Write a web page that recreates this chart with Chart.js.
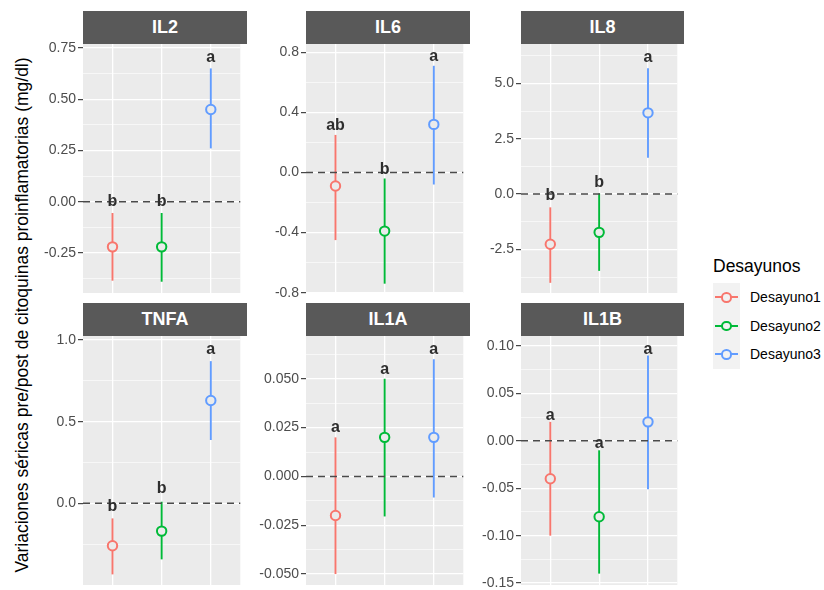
<!DOCTYPE html>
<html>
<head>
<meta charset="utf-8">
<script src="https://cdn.jsdelivr.net/npm/chart.js@4.4.0/dist/chart.umd.min.js"></script>
<style>
  body { margin:0; background:#fff; width:824px; height:590px; overflow:hidden; position:relative;
         font-family:"Liberation Sans", Arial, sans-serif; }
  canvas { position:absolute; }
  .strip { position:absolute; height:33px; background:#595959; color:#fff; font-weight:bold; font-size:18px;
           display:flex; align-items:center; justify-content:center; }
  #ytitle { position:absolute; left:22px; top:315px; transform:translate(-50%,-50%) rotate(-90deg);
            white-space:nowrap; font-size:17.5px; color:#000; }
  #legend { position:absolute; left:713px; top:256px; }
  #legend .title { font-size:17.5px; color:#000; margin-bottom:6px; }
  #legend .row { position:relative; height:28.5px; }
  #legend .key { position:absolute; left:0; top:0; width:27px; height:28.5px; background:#F2F2F2; }
  #legend .key .ln { position:absolute; left:2px; right:2px; top:13.3px; height:1.9px; }
  #legend .key .pt { position:absolute; left:8.3px; top:9.1px; width:6.6px; height:6.6px; border-radius:50%;
                     border:2px solid; background:#F2F2F2; }
  #legend .lab { position:absolute; left:37px; top:6px; font-size:14px; color:#000; }
</style>
</head>
<body>
<div id="ytitle">Variaciones séricas pre/post de citoquinas proinflamatorias (mg/dl)</div>
<div id="legend"></div>
<script>
// ---- data ----
const groups = ["Desayuno1", "Desayuno2", "Desayuno3"];
const colors = ["#F8766D", "#00BA38", "#619CFF"];

const il2Mean = [-0.22, -0.22, 0.45];
const il2Low  = [-0.385, -0.39, 0.26];
const il2High = [-0.055, -0.055, 0.65];
const il2Letters = ["b", "b", "a"];
const il2LetterY = [0.0, 0.0, 0.705];
const il2Ticks = [-0.25, 0, 0.25, 0.5, 0.75];
const il2TickLabels = ["-0.25", "0.00", "0.25", "0.50", "0.75"];

const il6Mean = [-0.09, -0.39, 0.32];
const il6Low  = [-0.45, -0.74, -0.08];
const il6High = [0.25, -0.04, 0.71];
const il6Letters = ["ab", "b", "a"];
const il6LetterY = [0.31, 0.02, 0.77];
const il6Ticks = [-0.8, -0.4, 0, 0.4, 0.8];
const il6TickLabels = ["-0.8", "-0.4", "0.0", "0.4", "0.8"];

const il8Mean = [-2.27, -1.73, 3.67];
const il8Low  = [-4.01, -3.47, 1.64];
const il8High = [-0.6, 0.03, 5.68];
const il8Letters = ["b", "b", "a"];
const il8LetterY = [-0.09, 0.5, 6.18];
const il8Ticks = [-2.5, 0, 2.5, 5];
const il8TickLabels = ["-2.5", "0.0", "2.5", "5.0"];

const tnfaMean = [-0.26, -0.17, 0.63];
const tnfaLow  = [-0.435, -0.343, 0.388];
const tnfaHigh = [-0.092, 0.01, 0.871];
const tnfaLetters = ["b", "b", "a"];
const tnfaLetterY = [-0.017, 0.088, 0.94];
const tnfaTicks = [0, 0.5, 1];
const tnfaTickLabels = ["0.0", "0.5", "1.0"];

const il1aMean = [-0.02, 0.02, 0.02];
const il1aLow  = [-0.05, -0.0205, -0.0108];
const il1aHigh = [0.02, 0.05, 0.06];
const il1aLetters = ["a", "a", "a"];
const il1aLetterY = [0.0251, 0.0547, 0.0648];
const il1aTicks = [-0.05, -0.025, 0, 0.025, 0.05];
const il1aTickLabels = ["-0.050", "-0.025", "0.000", "0.025", "0.050"];

const il1bMean = [-0.04, -0.08, 0.02];
const il1bLow  = [-0.1, -0.14, -0.051];
const il1bHigh = [0.02, -0.01, 0.09];
const il1bLetters = ["a", "a", "a"];
const il1bLetterY = [0.027, -0.003, 0.0965];
const il1bTicks = [-0.15, -0.1, -0.05, 0, 0.05, 0.1];
const il1bTickLabels = ["-0.15", "-0.10", "-0.05", "0.00", "0.05", "0.10"];

// ---- panel layout ----
const FONT = '"Liberation Sans", Arial, sans-serif';
const AXW = 50, PAD = 12, PH = 249;

const panels = [
  { name:"IL2",  x:83,  y:44,  w:164, min:-0.445, max:0.769, mean:il2Mean, low:il2Low, high:il2High, letters:il2Letters, letterY:il2LetterY, ticks:il2Ticks, tickLabels:il2TickLabels },
  { name:"IL6",  x:306, y:44,  w:164, min:-0.802, max:0.855, mean:il6Mean, low:il6Low, high:il6High, letters:il6Letters, letterY:il6LetterY, ticks:il6Ticks, tickLabels:il6TickLabels },
  { name:"IL8",  x:521, y:44,  w:163, min:-4.47,  max:6.78,  mean:il8Mean, low:il8Low, high:il8High, letters:il8Letters, letterY:il8LetterY, ticks:il8Ticks, tickLabels:il8TickLabels },
  { name:"TNFA", x:83,  y:336, w:164, min:-0.5,   max:1.025, mean:tnfaMean, low:tnfaLow, high:tnfaHigh, letters:tnfaLetters, letterY:tnfaLetterY, ticks:tnfaTicks, tickLabels:tnfaTickLabels },
  { name:"IL1A", x:306, y:336, w:164, min:-0.0556, max:0.0719, mean:il1aMean, low:il1aLow, high:il1aHigh, letters:il1aLetters, letterY:il1aLetterY, ticks:il1aTicks, tickLabels:il1aTickLabels },
  { name:"IL1B", x:521, y:336, w:163, min:-0.152, max:0.1105, mean:il1bMean, low:il1bLow, high:il1bHigh, letters:il1bLetters, letterY:il1bLetterY, ticks:il1bTicks, tickLabels:il1bTickLabels }
];

function minorTicks(t, lo, hi) {
  const step = t[1] - t[0], out = [];
  for (let v = t[0] - step / 2; v <= t[t.length - 1] + step / 2 + 1e-12; v += step) {
    if (v >= lo && v <= hi) out.push(v);
  }
  return out;
}
const near = (a, b) => Math.abs(a - b) < 1e-9;

function panelPlugin(p) {
  return {
    id: "panel" + p.name,
    beforeDraw(chart) {
      const { ctx, chartArea: a } = chart;
      ctx.save();
      ctx.fillStyle = "#EBEBEB";
      ctx.fillRect(a.left, a.top, a.right - a.left, a.bottom - a.top);
      ctx.restore();
    },
    beforeDatasetsDraw(chart) {
      const { ctx, chartArea: a, scales: { x, y } } = chart;
      ctx.save();
      // error bars
      groups.forEach((g, i) => {
        const px = x.getPixelForValue(i + 1);
        ctx.strokeStyle = colors[i];
        ctx.lineWidth = 1.9;
        ctx.beginPath();
        ctx.moveTo(px, y.getPixelForValue(p.low[i]));
        ctx.lineTo(px, y.getPixelForValue(p.high[i]));
        ctx.stroke();
      });
      // dashed zero line
      const y0 = y.getPixelForValue(0);
      ctx.strokeStyle = "#4A4A4A";
      ctx.lineWidth = 1.5;
      ctx.setLineDash([7, 5]);
      ctx.beginPath();
      ctx.moveTo(a.left, y0);
      ctx.lineTo(a.right, y0);
      ctx.stroke();
      ctx.restore();
    },
    afterDatasetsDraw(chart) {
      const { ctx, scales: { x, y } } = chart;
      ctx.save();
      ctx.fillStyle = "#2E2E2E";
      ctx.font = "bold 16px " + FONT;
      ctx.textAlign = "center";
      ctx.textBaseline = "middle";
      p.letters.forEach((t, i) => {
        ctx.fillText(t, x.getPixelForValue(i + 1), y.getPixelForValue(p.letterY[i]));
      });
      ctx.restore();
    }
  };
}

function makePanel(p) {
  const strip = document.createElement("div");
  strip.className = "strip";
  strip.textContent = p.name;
  strip.style.left = p.x + "px";
  strip.style.top = (p.y - 33) + "px";
  strip.style.width = p.w + "px";
  document.body.appendChild(strip);

  const cv = document.createElement("canvas");
  cv.width = AXW + p.w;
  cv.height = PH + 2 * PAD;
  cv.style.left = (p.x - AXW) + "px";
  cv.style.top = (p.y - PAD) + "px";
  document.body.appendChild(cv);

  const minor = minorTicks(p.ticks, p.min, p.max);
  const all = p.ticks.concat(minor).sort((a, b) => a - b);
  const isMinor = v => minor.some(m => near(m, v));

  new Chart(cv.getContext("2d"), {
    type: "scatter",
    data: {
      datasets: groups.map((g, i) => ({
        label: g,
        data: [{ x: i + 1, y: p.mean[i] }],
        pointRadius: 4.7,
        pointHoverRadius: 4.7,
        pointBorderWidth: 2,
        pointBorderColor: colors[i],
        pointBackgroundColor: "#EBEBEB"
      }))
    },
    options: {
      responsive: false,
      animation: false,
      devicePixelRatio: 1,
      events: [],
      layout: { padding: { top: PAD, bottom: PAD, left: 0, right: 0 } },
      plugins: { legend: { display: false }, tooltip: { enabled: false } },
      scales: {
        x: {
          type: "linear", min: 0.4, max: 3.6,
          ticks: { display: false },
          grid: { color: "#FFFFFF", lineWidth: 1.3, drawTicks: false },
          border: { display: false },
          afterBuildTicks: s => { s.ticks = [1, 2, 3].map(v => ({ value: v })); },
          afterFit: s => { s.height = 0; s.paddingLeft = 0; s.paddingRight = 0; }
        },
        y: {
          type: "linear", min: p.min, max: p.max,
          afterBuildTicks: s => { s.ticks = all.map(v => ({ value: v })); },
          afterFit: s => { s.width = AXW; s.paddingTop = 0; s.paddingBottom = 0; },
          ticks: {
            autoSkip: false,
            padding: 2,
            color: "#4D4D4D",
            font: { family: FONT, size: 14 },
            callback: v => {
              const k = p.ticks.findIndex(t => near(t, v));
              return k < 0 ? "" : p.tickLabels[k];
            }
          },
          grid: {
            color: "#FFFFFF",
            lineWidth: c => (c.tick && isMinor(c.tick.value)) ? 0.6 : 1.3,
            tickLength: 5,
            tickColor: c => (c.tick && isMinor(c.tick.value)) ? "rgba(0,0,0,0)" : "#333333",
            tickWidth: 1.1
          },
          border: { display: false }
        }
      }
    },
    plugins: [panelPlugin(p)]
  });
}

panels.forEach(makePanel);

// legend
const leg = document.getElementById("legend");
leg.innerHTML = '<div class="title">Desayunos</div>' + groups.map((g, i) =>
  '<div class="row"><div class="key"><div class="ln" style="background:' + colors[i] + '"></div>' +
  '<div class="pt" style="border-color:' + colors[i] + '"></div></div><div class="lab">' + g + '</div></div>'
).join("");
</script>
</body>
</html>
